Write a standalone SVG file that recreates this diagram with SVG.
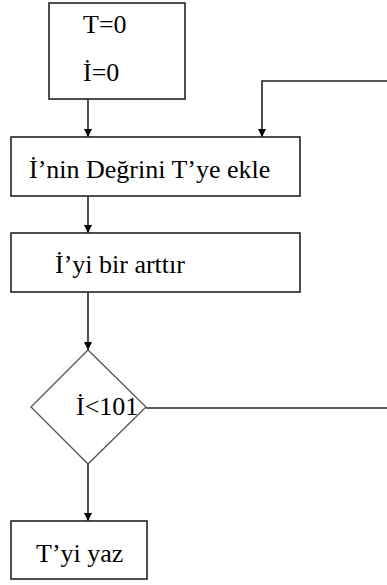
<svg xmlns="http://www.w3.org/2000/svg" width="387" height="585" viewBox="0 0 387 585">
<style>
.box{fill:#fff;stroke:#222;stroke-width:1.6}
.dia{fill:#fff;stroke:#555;stroke-width:1.3}
.c{fill:none;stroke:#222;stroke-width:1.6}
text{font-family:"Liberation Serif","Times New Roman",Times,serif;font-size:26px;fill:#000}
</style>
<defs>
<marker id="ah" viewBox="0 0 8 8" refX="8" refY="4" markerWidth="8" markerHeight="8" markerUnits="userSpaceOnUse" orient="auto">
<path d="M0,0 L8,4 L0,8 Z" fill="#000"/>
</marker>
</defs>
<rect width="387" height="585" fill="#fff"/>
<g id="connectors">
<line class="c" x1="88" y1="99" x2="88" y2="137" marker-end="url(#ah)"/>
<line class="c" x1="88" y1="196" x2="88" y2="233" marker-end="url(#ah)"/>
<line class="c" x1="88" y1="292" x2="88" y2="350" marker-end="url(#ah)"/>
<line class="c" x1="88" y1="464" x2="88" y2="521" marker-end="url(#ah)"/>
<line class="c" x1="146" y1="408" x2="387" y2="408"/>
<polyline class="c" points="387,81 262,81 262,137" marker-end="url(#ah)"/>
</g>
<g id="init">
<rect class="box" x="49" y="3" width="136" height="96"/>
<text x="83" y="33" font-family="Liberation Serif">T=0</text>
<text x="83" y="81" font-family="Liberation Serif">İ=0</text>
</g>
<g id="add">
<rect class="box" x="11" y="137" width="289" height="59"/>
<text x="29" y="178" font-family="Liberation Serif">İ’nin Değrini T’ye ekle</text>
</g>
<g id="inc">
<rect class="box" x="11" y="233" width="289" height="59"/>
<text x="55" y="273" font-family="Liberation Serif">İ’yi bir arttır</text>
</g>
<g id="cond">
<polygon class="dia" points="88,350 146,407 88,464 31,407"/>
<text x="76" y="415" font-family="Liberation Serif">İ&lt;101</text>
</g>
<g id="print">
<rect class="box" x="11" y="521" width="136" height="58"/>
<text x="36" y="562" font-family="Liberation Serif">T’yi yaz</text>
</g>
</svg>
